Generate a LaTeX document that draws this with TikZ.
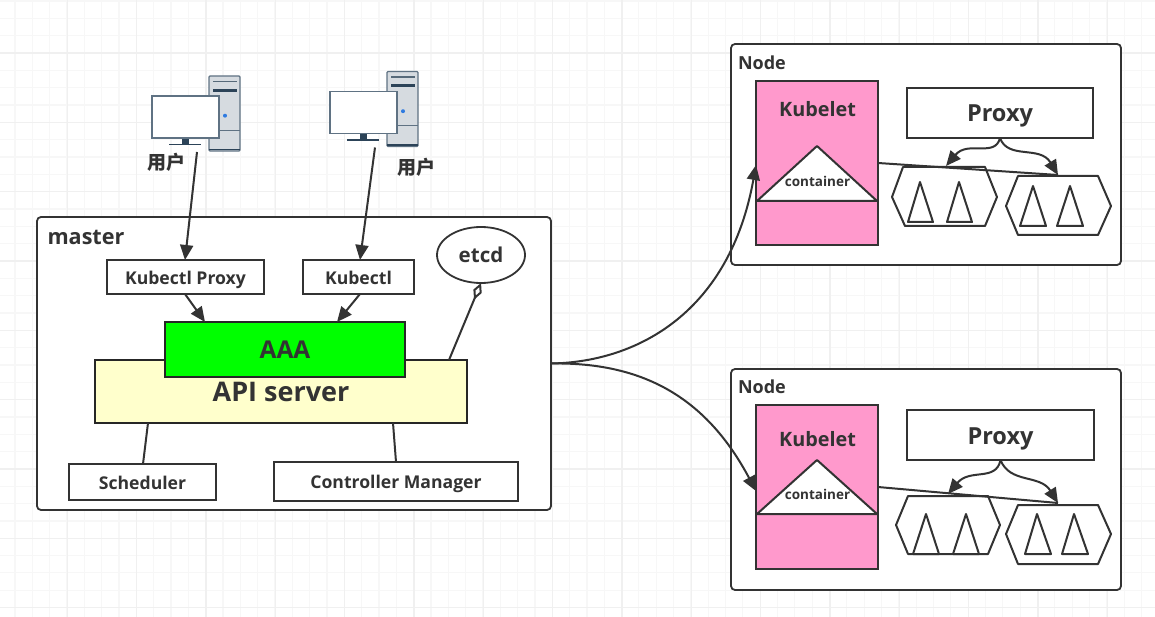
\documentclass[tikz,border=0pt]{standalone}
\usepackage{fontspec}
\setmainfont{Open Sans}
\newfontfamily\cjkfont{Noto Sans CJK SC}
\usetikzlibrary{positioning,shapes.geometric,arrows.meta}
\usepackage{xcolor}
\definecolor{inkgray}{HTML}{333333}
\definecolor{kubepink}{HTML}{FF99CC}
\definecolor{apiyellow}{HTML}{FFFFCC}
\definecolor{aaagreen}{HTML}{00FF00}
\definecolor{towergray}{HTML}{D6DBE0}
\definecolor{pcedge}{HTML}{5F7283}
\definecolor{pcdark}{HTML}{2C4358}
\definecolor{pcdot}{HTML}{2F7BE0}

\begin{document}
\begin{tikzpicture}[
    x=1pt, y=-1pt, % pixels of the screenshot
    every node/.style={text=inkgray, font=\bfseries, inner sep=0pt, outer sep=0pt},
    gridminor/.style={draw=black!3, line width=1.2pt},
    gridmajor/.style={draw=black!6, line width=1.5pt},
    panel/.style={draw=inkgray, fill=white, line width=1.8pt, rounded corners=4pt},
    plainbox/.style={draw=inkgray, fill=white, line width=2pt},
    kubebox/.style={draw=inkgray, fill=kubepink, line width=2pt, minimum width=122pt, minimum height=164pt},
    proxybox/.style={plainbox, minimum height=50pt, text height=18pt, text depth=0pt, font=\fontsize{23.5}{26}\selectfont\bfseries},
    smalltext/.style={text height=14.5pt, text depth=0pt, font=\fontsize{17.6}{20}\selectfont\bfseries},
    nodetext/.style={anchor=west, font=\fontsize{18}{20}\selectfont\bfseries},
    kubetext/.style={font=\fontsize{19.8}{24}\selectfont\bfseries},
    podtext/.style={font=\fontsize{13.5}{15}\selectfont\bfseries},
    usertext/.style={font=\cjkfont\fontsize{19}{21}\selectfont\bfseries},
    outline/.style={draw=inkgray, line width=2pt, line join=round},
    link/.style={draw=inkgray, line width=2pt},
    flow/.style={link, -{Triangle[length=15pt,width=13pt,fill=inkgray]}},
    store/.style={link, -{Diamond[open,fill=white,length=18pt,width=9pt]}},
    pc/.pic={
        \path[draw=pcedge, fill=towergray, line width=1.2pt, rounded corners=1pt] (57,-20) rectangle (88,55);
        \draw[pcedge, line width=.8pt] (57,34) -- (88,34);
        \draw[pcdark, line width=1.6pt] (57,53.5) -- (88,53.5);
        \draw[pcdark!80, line width=1.4pt] (61,-14.5) -- (85,-14.5);
        \draw[pcdark, line width=3pt] (61,-5.5) -- (85,-5.5);
        \fill[pcdot] (73,19.7) circle (2pt);
        \path[draw=pcedge, fill=white, line width=1.2pt] (0,0) rectangle (67,42);
        \fill[pcdark] (30,42.6) rectangle (37,48);
        \draw[pcdark, line width=1.2pt] (17,48.5) -- (49,48.5);
        \coordinate (-foot) at (45,56);
    }
]
\useasboundingbox (0,0) rectangle (1155,617);
\foreach \i in {0,...,66} \draw[gridminor] ({-2.33+17.33*\i},0) -- ({-2.33+17.33*\i},617);
\foreach \i in {0,...,35} \draw[gridminor] (0,{1+17.33*\i}) -- (1155,{1+17.33*\i});
\foreach \i in {0,...,16} \draw[gridmajor] ({67.33+69.33*\i},0) -- ({67.33+69.33*\i},617);
\foreach \i in {0,...,8} \draw[gridmajor] (0,{53+69.33*\i}) -- (1155,{53+69.33*\i});

% master
\node[panel, minimum width=514pt, minimum height=293pt] (master) at (294,363.5) {};
\node[anchor=west, font=\fontsize{21.6}{24}\selectfont\bfseries] (mastertext) at (47.5,237) {master};
\node[plainbox, smalltext, minimum width=157pt, minimum height=34pt] (kubectlproxy) at (185.5,277) {Kubectl Proxy};
\node[plainbox, smalltext, minimum width=111pt, minimum height=34pt] (kubectl) at (358.5,277) {Kubectl};
\node[ellipse, draw=inkgray, fill=white, line width=1.8pt, minimum width=88pt, minimum height=56pt, font=\fontsize{20.5}{24}\selectfont\bfseries] (etcd) at (481,255) {etcd};
\node[draw=black!85, fill=apiyellow, line width=2.2pt, minimum width=372pt, minimum height=63pt, font=\fontsize{27}{30}\selectfont\bfseries] (api) at (281,391.5) {API server};
\node[draw=black!85, fill=aaagreen, line width=2.2pt, minimum width=240pt, minimum height=55pt, font=\fontsize{24.5}{26}\selectfont\bfseries] (aaa) at (285,349.5) {AAA};
\node[plainbox, smalltext, minimum width=147pt, minimum height=36pt] (scheduler) at (142.5,482) {Scheduler};
\node[plainbox, smalltext, minimum width=244pt, minimum height=39pt] (controller) at (396,481.5) {Controller Manager};

% users
\pic (pca) at (152,96) {pc};
\pic (pcb) at (330,91.5) {pc};
\node[usertext] (usera) at (166,162) {用户};
\node[usertext] (userb) at (416,167) {用户};

% node one
\node[panel, minimum width=390pt, minimum height=221pt] (nodea) at (926,154.5) {};
\node[nodetext] (nodeatext) at (738,63) {Node};
\node[kubebox] (kubeleta) at (817,163) {};
\node[kubetext] (kubeatext) at (817.5,109) {Kubelet};
\draw[outline, fill=white] (817,146) -- (877,201) -- (757,201) -- cycle;
\node[podtext] (poda) at (817.5,181) {container};
\node[proxybox, minimum width=186pt] (proxya) at (1000,113) {Proxy};
\draw[outline] (892,197) -- (903,167) -- (985,167) -- (997,197) -- (985,226) -- (905,226) -- cycle;
\draw[outline] (920,182) -- (933,222) -- (908,222) -- cycle;
\draw[outline] (959,182) -- (972,222) -- (947,222) -- cycle;
\draw[outline] (1006,206) -- (1018,176) -- (1098,176) -- (1111,206) -- (1098,235) -- (1018,235) -- cycle;
\draw[outline] (1033,186) -- (1046,226) -- (1020,226) -- cycle;
\draw[outline] (1070,186) -- (1083,226) -- (1057,226) -- cycle;
\coordinate (podatop) at (946,166);
\coordinate (podbtop) at (1058,175);

% node two
\node[panel, minimum width=390pt, minimum height=221pt] (nodeb) at (926,479.5) {};
\node[nodetext] (nodebtext) at (738,387) {Node};
\node[kubebox] (kubeletb) at (817,487) {};
\node[kubetext] (kubebtext) at (817.5,439) {Kubelet};
\draw[outline, fill=white] (817,460) -- (877,514) -- (757,514) -- cycle;
\node[podtext] (podb) at (817.5,494) {container};
\node[proxybox, minimum width=187pt] (proxyb) at (1000.5,435) {Proxy};
\draw[outline] (896,525) -- (908,496) -- (988,496) -- (1000,525) -- (988,554) -- (908,554) -- cycle;
\draw[outline] (926,514) -- (939,554) -- (913,554) -- cycle;
\draw[outline] (966,514) -- (979,554) -- (953,554) -- cycle;
\draw[outline] (1006,534) -- (1018,505) -- (1098,505) -- (1111,534) -- (1098,564) -- (1018,564) -- cycle;
\draw[outline] (1037,514) -- (1051,554) -- (1025,554) -- cycle;
\draw[outline] (1074,514) -- (1088,554) -- (1062,554) -- cycle;
\coordinate (podctop) at (948,494);
\coordinate (poddtop) at (1058,503);

% connectors
\draw[flow] (pca-foot) -- ([xshift=-0.5pt]kubectlproxy.north);
\draw[flow] (pcb-foot) -- ([xshift=1.5pt]kubectl.north);
\draw[flow] ([xshift=-0.5pt]kubectlproxy.south) -- (205,322);
\draw[flow] ([xshift=1.5pt]kubectl.south) -- (337,322);
\coordinate (apileft) at (148,423);
\coordinate (apiright) at (393,423);
\coordinate (apitop) at (449,360);
\draw[link] (apileft) -- ([xshift=0.5pt]scheduler.north);
\draw[link] (apiright) -- (controller.north);
\draw[store] (apitop) -- (etcd.south);
\draw[flow] (master.east) .. controls (640,362) and (730,310) .. ([yshift=-2pt]kubeleta.west);
\draw[flow] (master.east) .. controls (640,362) and (705,395) .. ([yshift=-4pt]kubeletb.west);
\draw[link] (kubeleta.east) -- (podbtop);
\draw[link] (kubeletb.east) -- (poddtop);
\draw[flow] (proxya.south) .. controls (995,158) and (968,140) .. (podatop);
\draw[flow] (proxya.south) .. controls (1008,160) and (1040,145) .. (podbtop);
\draw[flow] (proxyb.south) .. controls (996,482) and (970,468) .. (podctop);
\draw[flow] (proxyb.south) .. controls (1010,484) and (1040,474) .. (poddtop);
\end{tikzpicture}
\end{document}
